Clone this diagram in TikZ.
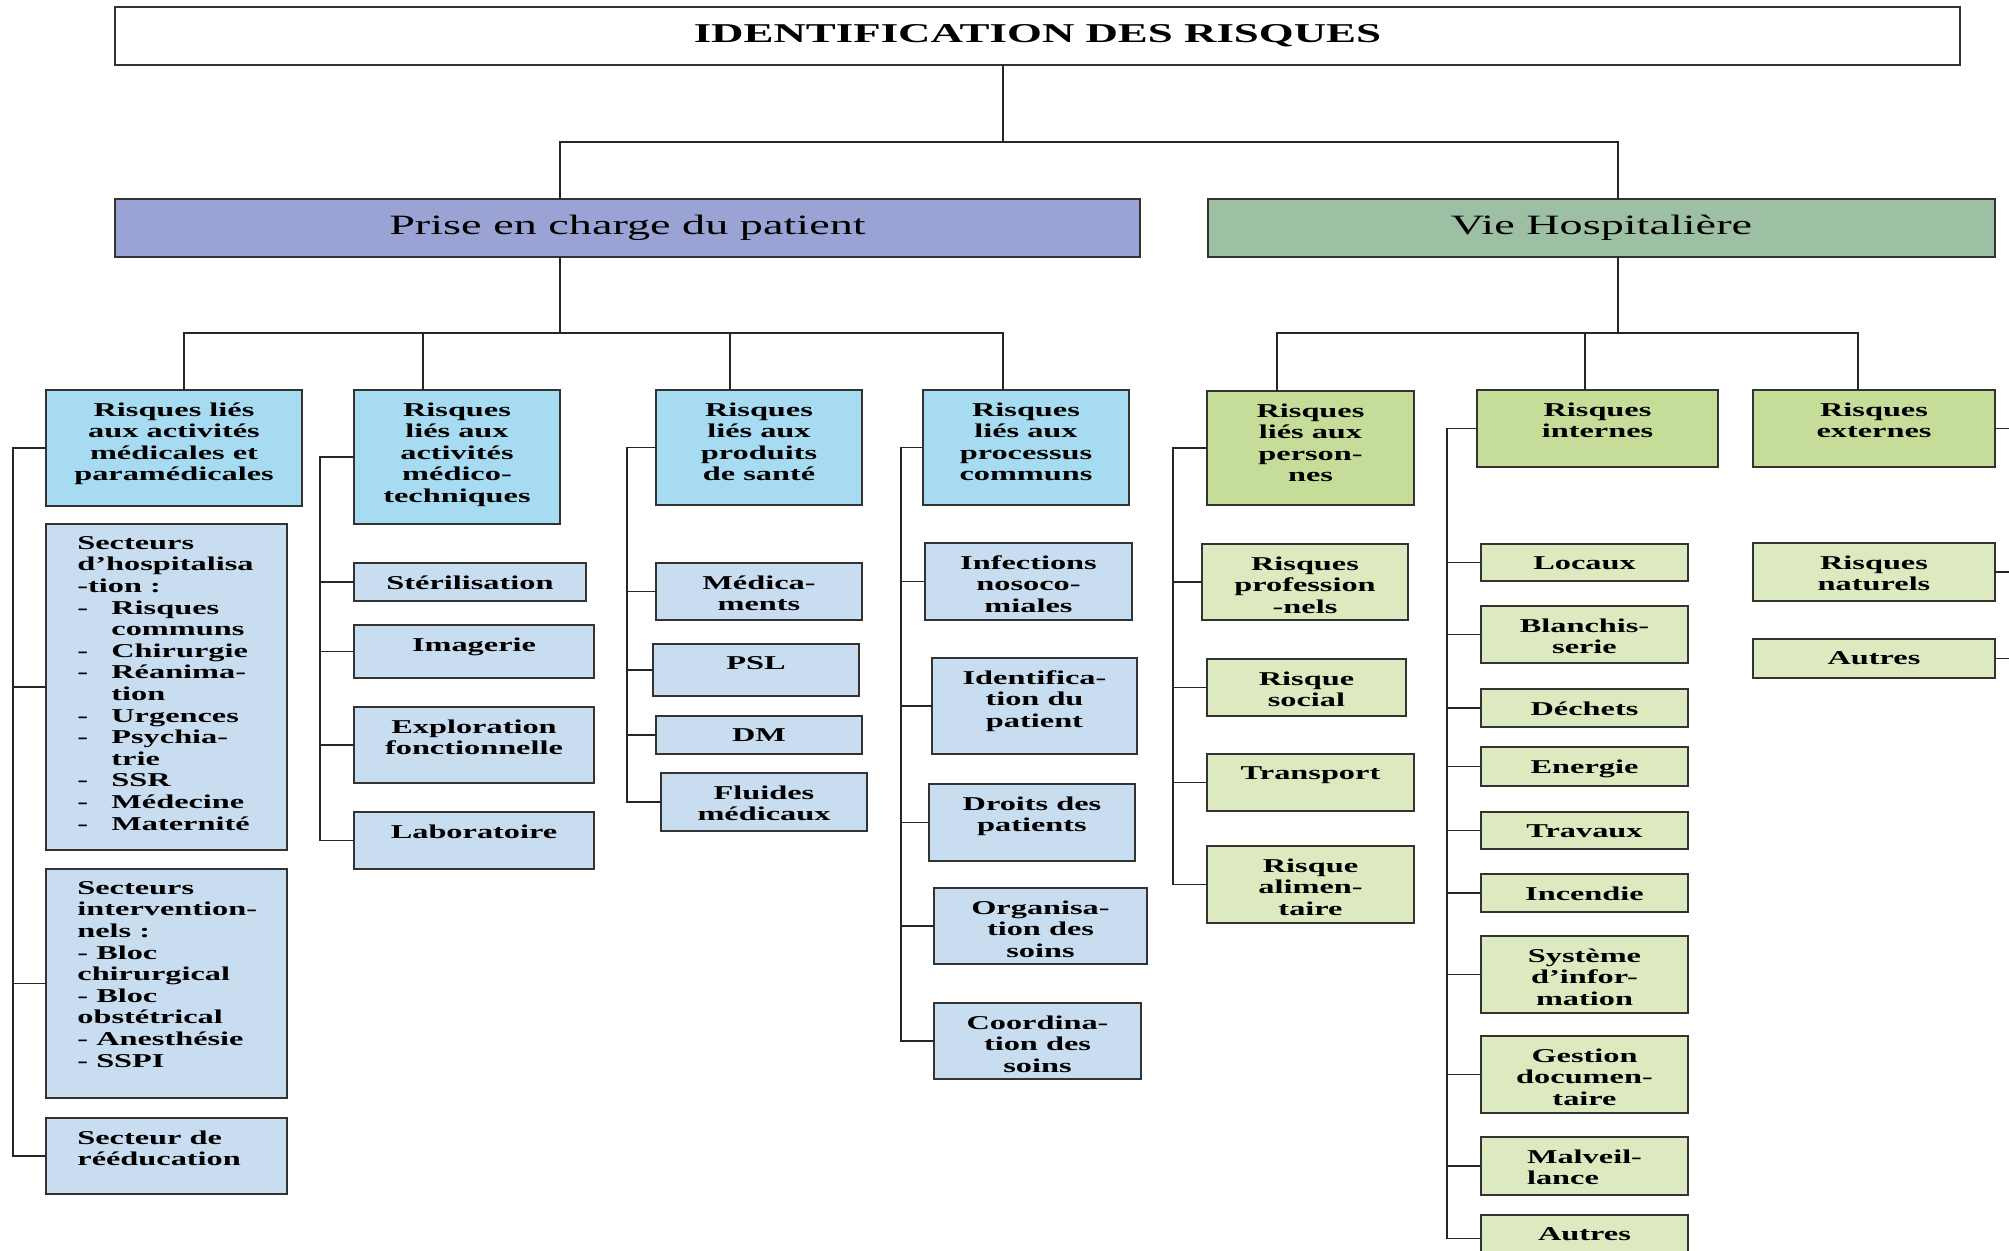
\documentclass[tikz,border=0pt]{standalone}
\usepackage{fontspec}
\setmainfont{Liberation Serif}[FakeStretch=1.65]

\definecolor{periwinkle}{HTML}{9AA3D3}
\definecolor{sage}{HTML}{9DC0A4}
\definecolor{skyhead}{HTML}{A7DBF2}
\definecolor{skyitem}{HTML}{C9DDF1}
\definecolor{olivehead}{HTML}{C5DD99}
\definecolor{oliveitem}{HTML}{DDE9BF}

\tikzset{
  conn/.style={line width=0.9pt, draw=black!85},
  frame/.style={draw=black!80, line width=1.2pt, inner sep=0pt, outer sep=0pt},
  ahead/.style={frame, fill=skyhead},
  aitem/.style={frame, fill=skyitem},
  bhead/.style={frame, fill=olivehead},
  bitem/.style={frame, fill=oliveitem},
  boxtxt/.style={inner sep=0pt, align=center, font=\bfseries\fontsize{9.8}{10.8}\selectfont}
}

\begin{document}
\begin{tikzpicture}[x=0.5pt, y=-0.5pt]
      \useasboundingbox (0,0) rectangle (2009,1250);
      \newcommand{\rbox}[8][]{
        \node[#7, minimum width={(#5-#3)*0.5pt}, minimum height={(#6-#4)*0.5pt}] (#2) at ({(#3+#5)/2},{(#4+#6)/2}) {};
        \node[boxtxt, anchor=north, #1] (#2-t) at ([yshift=-6pt]#2.north) {#8};
      }
      \newcommand{\lbox}[7]{
        \node[#6, minimum width={(#4-#2)*0.5pt}, minimum height={(#5-#3)*0.5pt}] (#1) at ({(#2+#4)/2},{(#3+#5)/2}) {};
        \node[boxtxt, align=left, anchor=north west] (#1-t) at ([xshift=15.5pt,yshift=-6pt]#1.north west) {#7};
      }
      \newcommand{\dash}{\makebox[17pt][l]{-}}

      % top levels
      \node[frame, fill=white, minimum width=922.5pt, minimum height=29pt,
        font=\bfseries\fontsize{13.6}{16}\selectfont] (title) at (1037.5,36) {IDENTIFICATION DES RISQUES};
      \node[frame, fill=periwinkle, minimum width=512.5pt, minimum height=29pt,
        font=\fontsize{14}{17}\selectfont] (P) at (627.5,228) {Prise en charge du patient};
      \node[frame, fill=sage, minimum width=393.5pt, minimum height=29pt,
        font=\fontsize{14}{17}\selectfont] (V) at (1601.5,228) {Vie Hospitalière};

      % prise en charge du patient
      \rbox{A1}{46}{390}{302}{506}{ahead}{Risques liés\\aux activités\\médicales et\\paramédicales}
      \lbox{A1a}{46}{524}{287}{850}{aitem}{Secteurs\\d’hospitalisa\\-tion :\\
        \dash Risques\\\hspace*{17pt}communs\\\dash Chirurgie\\\dash Réanima-\\\hspace*{17pt}tion\\
        \dash Urgences\\\dash Psychia-\\\hspace*{17pt}trie\\\dash SSR\\\dash Médecine\\\dash Maternité}
      \lbox{A1b}{46}{869}{287}{1098}{aitem}{Secteurs\\intervention-\\nels :\\- Bloc\\chirurgical\\- Bloc\\obstétrical\\- Anesthésie\\- SSPI}
      \lbox{A1c}{46}{1118}{287}{1194}{aitem}{Secteur de\\rééducation}

      \rbox{A2}{354}{390}{560}{524}{ahead}{Risques\\liés aux\\activités\\médico-\\techniques}
      \rbox{A2a}{354}{563}{586}{601}{aitem}{Stérilisation}
      \rbox{A2b}{354}{625}{594}{678}{aitem}{Imagerie}
      \rbox{A2c}{354}{707}{594}{783}{aitem}{Exploration\\fonctionnelle}
      \rbox{A2d}{354}{812}{594}{869}{aitem}{Laboratoire}

      \rbox{A3}{656}{390}{862}{505}{ahead}{Risques\\liés aux\\produits\\de santé}
      \rbox{A3a}{656}{563}{862}{620}{aitem}{Médica-\\ments}
      \rbox{A3b}{653}{644}{859}{696}{aitem}{PSL}
      \rbox{A3c}{656}{716}{862}{754}{aitem}{DM}
      \rbox{A3d}{661}{773}{867}{831}{aitem}{Fluides\\médicaux}

      \rbox{A4}{923}{390}{1129}{505}{ahead}{Risques\\liés aux\\processus\\communs}
      \rbox{A4a}{925}{543}{1132}{620}{aitem}{Infections\\nosoco-\\miales}
      \rbox{A4b}{932}{658}{1137}{754}{aitem}{Identifica-\\tion du\\patient}
      \rbox{A4c}{929}{784}{1135}{861}{aitem}{Droits des\\patients}
      \rbox{A4d}{934}{888}{1147}{964}{aitem}{Organisa-\\tion des\\soins}
      \rbox{A4e}{934}{1003}{1141}{1079}{aitem}{Coordina-\\tion des\\soins}

      % vie hospitaliere
      \rbox{B1}{1207}{391}{1414}{505}{bhead}{Risques\\liés aux\\person-\\nes}
      \rbox{B1a}{1202}{544}{1408}{620}{bitem}{Risques\\profession\\-nels}
      \rbox{B1b}{1207}{659}{1406}{716}{bitem}{Risque\\social}
      \rbox{B1c}{1207}{754}{1414}{811}{bitem}{Transport}
      \rbox{B1d}{1207}{846}{1414}{923}{bitem}{Risque\\alimen-\\taire}

      \rbox{B2}{1477}{390}{1718}{467}{bhead}{Risques\\internes}
      \rbox{B2a}{1481}{544}{1688}{581}{bitem}{Locaux}
      \rbox{B2b}{1481}{606}{1688}{663}{bitem}{Blanchis-\\serie}
      \rbox{B2c}{1481}{689}{1688}{727}{bitem}{Déchets}
      \rbox{B2d}{1481}{747}{1688}{786}{bitem}{Energie}
      \rbox{B2e}{1481}{812}{1688}{849}{bitem}{Travaux}
      \rbox{B2f}{1481}{874}{1688}{912}{bitem}{Incendie}
      \rbox{B2g}{1481}{936}{1688}{1013}{bitem}{Système\\d’infor-\\mation}
      \rbox{B2h}{1481}{1036}{1688}{1113}{bitem}{Gestion\\documen-\\taire}
      \rbox[align=left]{B2i}{1481}{1137}{1688}{1195}{bitem}{Malveil-\\lance}
      \rbox{B2j}{1481}{1215}{1688}{1262}{bitem}{Autres}

      \rbox{B3}{1753}{390}{1995}{467}{bhead}{Risques\\externes}
      \rbox{B3a}{1753}{543}{1995}{601}{bitem}{Risques\\naturels}
      \rbox{B3b}{1753}{639}{1995}{678}{bitem}{Autres}

      % tree lines
      \coordinate (top) at (1003,142);
      \coordinate (topL) at (560,142);
      \coordinate (topR) at (1618,142);
      \draw[conn] (title.south -| top) -- (top);
      \draw[conn] (topL |- P.north) -- (topL) -- (topR) -- (topR |- V.north);

      \coordinate (pmid) at (560,333);
      \coordinate (pa) at (184,333);
      \coordinate (pb) at (423,333);
      \coordinate (pc) at (730,333);
      \coordinate (pd) at (1003,333);
      \draw[conn] (P.south -| pmid) -- (pmid);
      \draw[conn] (pa |- A1.north) -- (pa) -- (pd) -- (pd |- A4.north);
      \draw[conn] (pb) -- (pb |- A2.north);
      \draw[conn] (pc) -- (pc |- A3.north);

      \coordinate (vmid) at (1618,333);
      \coordinate (va) at (1277,333);
      \coordinate (vb) at (1585,333);
      \coordinate (vc) at (1858,333);
      \draw[conn] (V.south -| vmid) -- (vmid);
      \draw[conn] (va |- B1.north) -- (va) -- (vc) -- (vc |- B3.north);
      \draw[conn] (vb) -- (vb |- B2.north);

      % side buses
      \coordinate (busA1) at (13,0);
      \coordinate (busA2) at (320,0);
      \coordinate (busA3) at (627,0);
      \coordinate (busA4) at (901,0);
      \coordinate (busB1) at (1173,0);
      \coordinate (busB2) at (1447,0);
      \coordinate (busB3) at (2022,0);

      \draw[conn] (A1.west) -| (busA1 |- A1c.west) -- (A1c.west);
      \draw[conn] (A1a.west -| busA1) -- (A1a.west);
      \draw[conn] (A1b.west -| busA1) -- (A1b.west);

      \draw[conn] (A2.west) -| (busA2 |- A2d.west) -- (A2d.west);
      \draw[conn] (A2a.west -| busA2) -- (A2a.west);
      \draw[conn] (A2b.west -| busA2) -- (A2b.west);
      \draw[conn] (A2c.west -| busA2) -- (A2c.west);

      \draw[conn] (A3.west) -| (busA3 |- A3d.west) -- (A3d.west);
      \draw[conn] (A3a.west -| busA3) -- (A3a.west);
      \draw[conn] (A3b.west -| busA3) -- (A3b.west);
      \draw[conn] (A3c.west -| busA3) -- (A3c.west);

      \draw[conn] (A4.west) -| (busA4 |- A4e.west) -- (A4e.west);
      \draw[conn] (A4a.west -| busA4) -- (A4a.west);
      \draw[conn] (A4b.west -| busA4) -- (A4b.west);
      \draw[conn] (A4c.west -| busA4) -- (A4c.west);
      \draw[conn] (A4d.west -| busA4) -- (A4d.west);

      \draw[conn] (B1.west) -| (busB1 |- B1d.west) -- (B1d.west);
      \draw[conn] (B1a.west -| busB1) -- (B1a.west);
      \draw[conn] (B1b.west -| busB1) -- (B1b.west);
      \draw[conn] (B1c.west -| busB1) -- (B1c.west);

      \draw[conn] (B2.west) -| (busB2 |- B2j.west) -- (B2j.west);
      \draw[conn] (B2a.west -| busB2) -- (B2a.west);
      \draw[conn] (B2b.west -| busB2) -- (B2b.west);
      \draw[conn] (B2c.west -| busB2) -- (B2c.west);
      \draw[conn] (B2d.west -| busB2) -- (B2d.west);
      \draw[conn] (B2e.west -| busB2) -- (B2e.west);
      \draw[conn] (B2f.west -| busB2) -- (B2f.west);
      \draw[conn] (B2g.west -| busB2) -- (B2g.west);
      \draw[conn] (B2h.west -| busB2) -- (B2h.west);
      \draw[conn] (B2i.west -| busB2) -- (B2i.west);

      \draw[conn] (B3.east) -| (busB3 |- B3b.east) -- (B3b.east);
      \draw[conn] (B3a.east) -- (B3a.east -| busB3);
    \end{tikzpicture}
\end{document}
